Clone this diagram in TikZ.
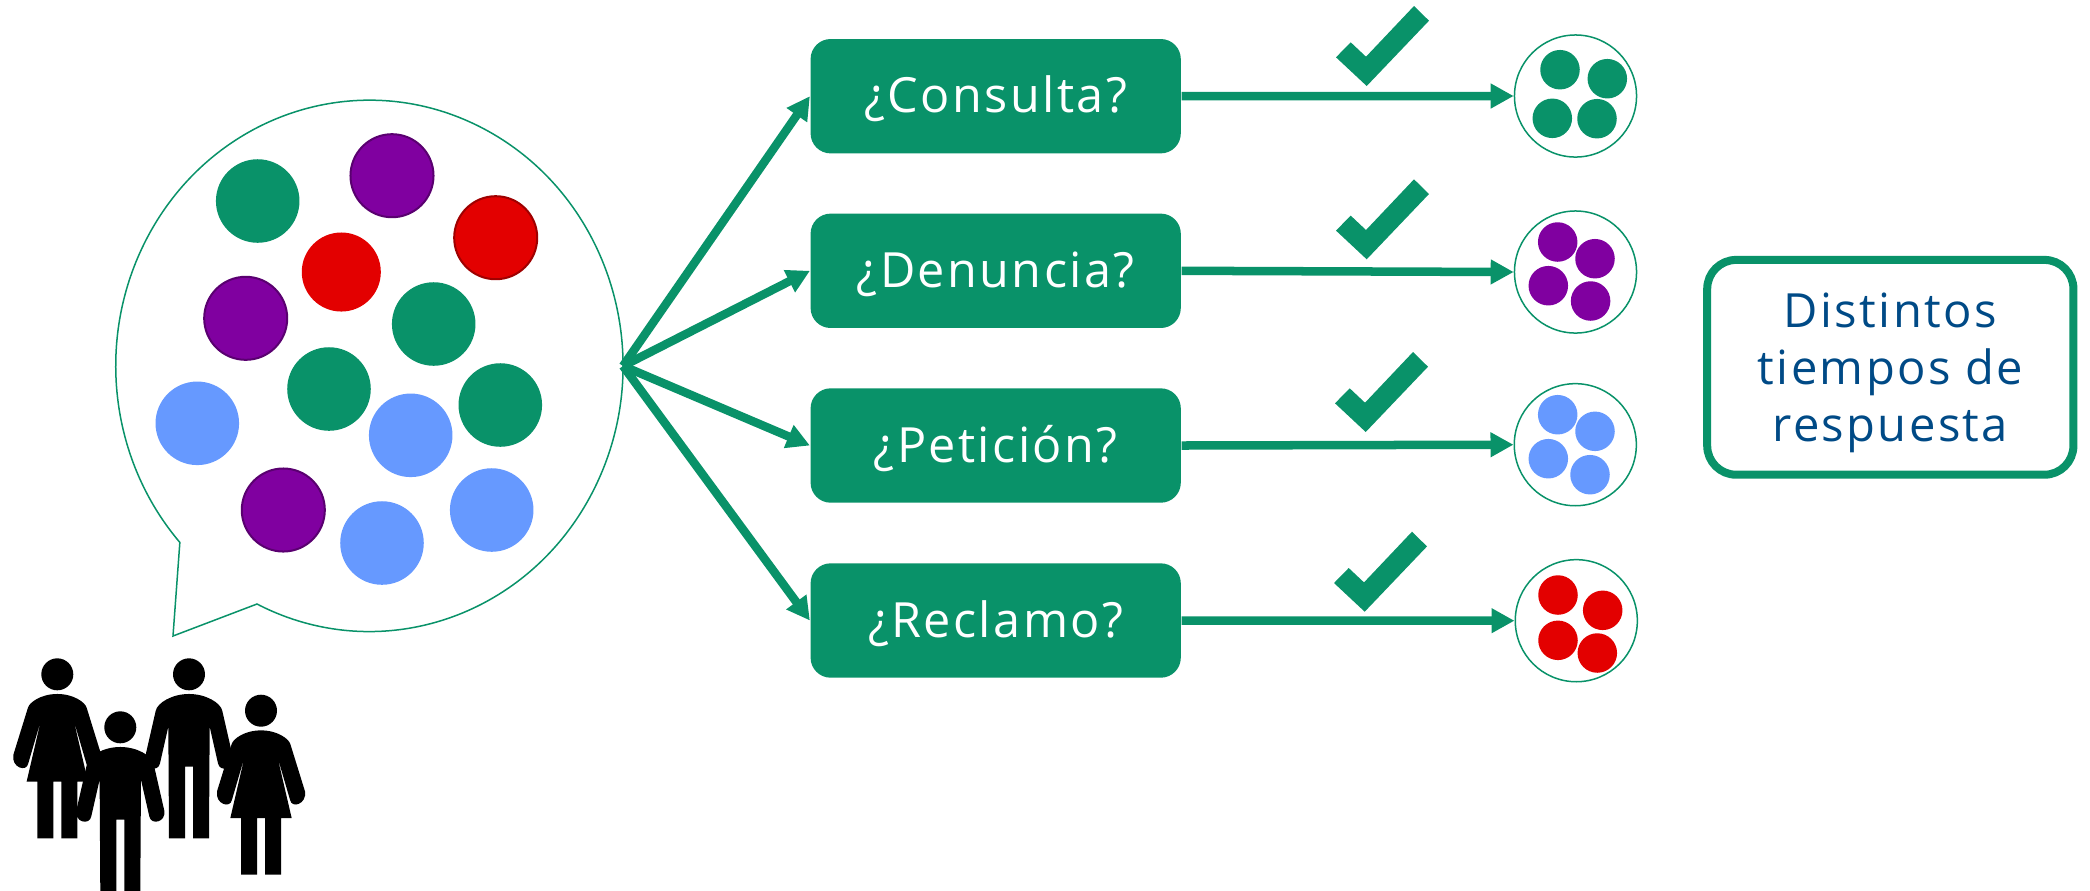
\documentclass[tikz,border=0pt]{standalone}
\usepackage{fontspec}
\usepackage{xcolor}
\usetikzlibrary{arrows.meta}
\setmainfont[LetterSpace=5]{Open Sans}
\definecolor{vgreen}{RGB}{9,146,105}
\definecolor{vpurple}{RGB}{128,0,160}
\definecolor{vred}{RGB}{227,0,0}
\definecolor{vblue}{RGB}{102,153,255}
\definecolor{vnavy}{RGB}{0,74,134}

\begin{document}
\begin{tikzpicture}[x=0.01cm,y=-0.01cm,
  tipobox/.style={fill=vgreen,text=white,rounded corners=0.2cm,minimum width=3.7cm,minimum height=1.143cm,inner sep=0pt,text height=0.33cm,text depth=0pt,font=\fontsize{13.8}{16}\selectfont},
  flecha/.style={draw=vgreen,line width=0.085cm,-{Triangle[length=0.23cm,width=0.235cm]}},
  grupo/.style={circle,draw=vgreen,line width=0.015cm,minimum size=1.22cm,inner sep=0pt},
  bigdot/.style={circle,fill=#1,minimum size=0.835cm,inner sep=0pt},
  smalldot/.style={circle,fill=#1,minimum size=0.395cm,inner sep=0pt},
  ringdot/.style 2 args={circle,fill=#1,draw=#2,line width=0.02cm,minimum size=0.83cm,inner sep=0pt}]

\useasboundingbox (0,0) rectangle (2090,890);

% speech bubble with its tail
\draw[vgreen,line width=0.015cm] (257,604) arc [start angle=243.7,end angle=581.65,x radius=2.535cm,y radius=2.655cm] -- (173,636) -- cycle;

% dots inside the bubble
\foreach \px/\py/\col [count=\i] in {257.7/201/vgreen,433.7/324/vgreen,329/389/vgreen,500.3/405/vgreen,197.3/423.3/vblue,410.7/435.3/vblue,382/543/vblue,491.7/510/vblue}
  \node[bigdot=\col] (dot\i) at (\px,\py) {};
\node[bigdot=vred,minimum size=0.79cm] (dotr) at (341.3,272) {};
\node[ringdot={vred}{vred!70!black}] (dotra) at (495.7,237.7) {};
\node[ringdot={vpurple}{vpurple!70!black}] (dotpa) at (392,175.7) {};
\node[ringdot={vpurple}{vpurple!70!black}] (dotpb) at (245.7,318.3) {};
\node[ringdot={vpurple}{vpurple!70!black}] (dotpc) at (283.3,510) {};

% the four question boxes
\coordinate (hub) at (623,366);
\node[tipobox] (consulta) at (995.7,96.2) {¿Consulta?};
\node[tipobox] (denuncia) at (995.7,270.8) {¿Denuncia?};
\node[tipobox] (peticion) at (995.7,445.5) {¿Petición?};
\node[tipobox] (reclamo) at (995.7,620.5) {¿Reclamo?};

% circles on the right
\node[grupo] (gconsulta) at (1575.5,96) {};
\node[grupo] (gdenuncia) at (1575.5,272) {};
\node[grupo] (gpeticion) at (1575.3,444.7) {};
\node[grupo] (greclamo) at (1576.3,620.7) {};

% dots inside the circles
\foreach \px/\py [count=\i] in {1560/69.7,1607.3/78.7,1552.3/118.3,1597/118.7}
  \node[smalldot=vgreen] (sc\i) at (\px,\py) {};
\foreach \px/\py [count=\i] in {1557.7/242,1595/258.7,1548.3/285.7,1590.6/301}
  \node[smalldot=vpurple] (sd\i) at (\px,\py) {};
\foreach \px/\py [count=\i] in {1557.7/414.7,1595/431.3,1548.3/458.7,1590/474.7}
  \node[smalldot=vblue] (sp\i) at (\px,\py) {};
\foreach \px/\py [count=\i] in {1558/595,1602.7/610.3,1558/640.3,1597.3/653}
  \node[smalldot=vred] (sr\i) at (\px,\py) {};

% connectors
\foreach \tipo in {consulta,denuncia,peticion,reclamo} {
  \draw[flecha] (hub) -- (\tipo.west);
  \draw[flecha] (\tipo.east) -- (g\tipo.west);
}

% tick marks
\foreach \dx/\dy in {0/0,0/173.3,-1/346,-2/525.7}
  \fill[vgreen,shift={(\dx,\dy)}] (1336,57.3) -- (1350.7,42.3) -- (1366,56.7) -- (1414,6) -- (1429,20.7) -- (1366.7,86) -- cycle;

% note on the right
\node[draw=vgreen,line width=0.08cm,rounded corners=0.29cm,minimum width=3.66cm,minimum height=2.147cm,inner sep=0pt] (nota) at (1890.3,367.3) {};
\node[inner sep=0pt,align=center,text=vnavy,font=\fontsize{13.4}{16.2}\selectfont] (notatexto) at (1890.3,373) {Distintos\\tiempos de\\respuesta};

% people
\def\manshape{(0,0) circle [radius=48] (-62,157) -- (-87,267) .. controls (-92,295) and (-138,285) .. (-132,250) -- (-100,110) .. controls (-95,85) and (-50,59) .. (0,59) .. controls (50,59) and (95,85) .. (100,110) -- (132,250) .. controls (138,285) and (92,295) .. (87,267) -- (62,157) -- (60,492) -- (12,492) -- (12,277) -- (-12,277) -- (-12,492) -- (-60,492) -- cycle}
\def\womanshape{(0,0) circle [radius=48] (-49,137) -- (-87,267) .. controls (-92,295) and (-138,280) .. (-132,242) -- (-88,100) .. controls (-84,85) and (-50,59) .. (0,59) .. controls (50,59) and (84,85) .. (88,100) -- (132,242) .. controls (138,280) and (92,295) .. (87,267) -- (49,137) -- (92,322) -- (60,322) -- (60,492) -- (12,492) -- (12,322) -- (-12,322) -- (-12,492) -- (-60,492) -- (-60,322) -- (-92,322) -- cycle}
\fill[black,shift={(57.3,674.3)},scale=1/3] \womanshape;
\fill[black,shift={(189,674.3)},scale=1/3] \manshape;
\fill[black,shift={(120.3,727.3)},scale=1/3] \manshape;
\fill[black,shift={(261,710.7)},scale=1/3] \womanshape;

\end{tikzpicture}
\end{document}
